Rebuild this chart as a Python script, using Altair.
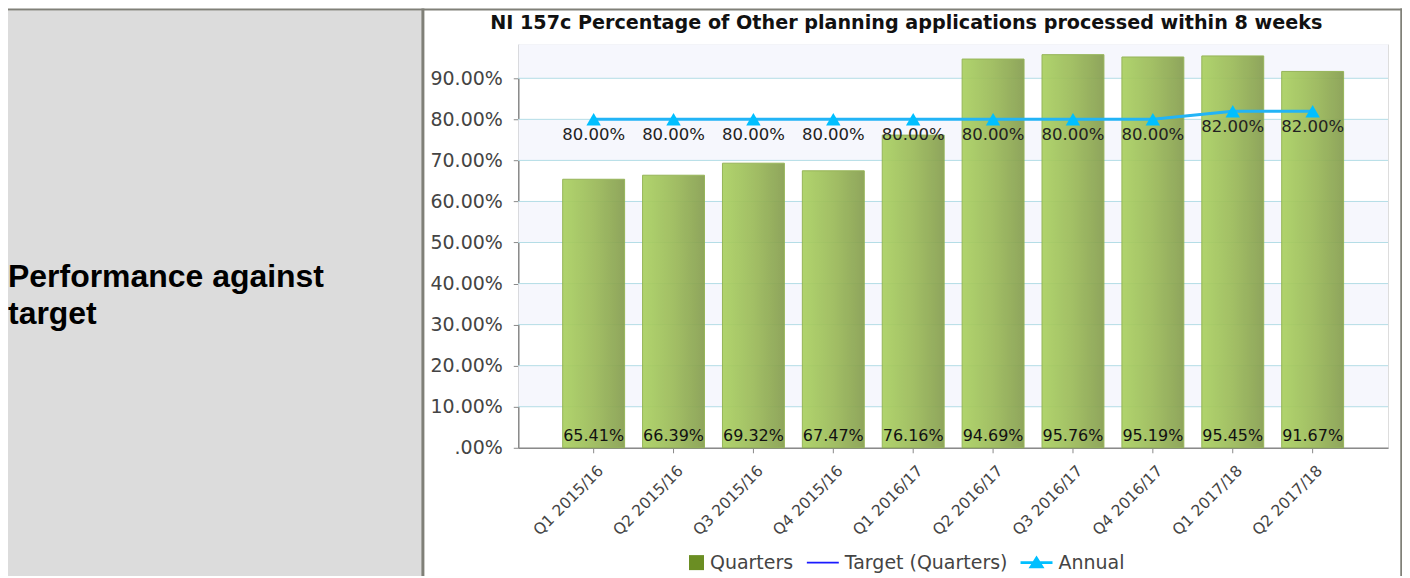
import altair as alt
import pandas as pd

# ---------------- data ----------------
quarters = ["Q1 2015/16", "Q2 2015/16", "Q3 2015/16", "Q4 2015/16", "Q1 2016/17",
            "Q2 2016/17", "Q3 2016/17", "Q4 2016/17", "Q1 2017/18", "Q2 2017/18"]
quarter_values = [65.41, 66.39, 69.32, 67.47, 76.16, 94.69, 95.76, 95.19, 95.45, 91.67]
target_values = [80, 80, 80, 80, 80, 80, 80, 80, 82, 82]
annual_values = [80, 80, 80, 80, 80, 80, 80, 80, 82, 82]
y_ticks = [0, 10, 20, 30, 40, 50, 60, 70, 80, 90]
grid_values = [10, 20, 30, 40, 50, 60, 70, 80, 90]
y_max = 98.27
band_starts = [10, 30, 50, 70, 90]
band_ends = [20, 40, 60, 80, y_max]
series_names = ["Quarters", "Target (Quarters)", "Annual"]
series_colors = ["#6b8e23", "#1a1aff", "#00bfff"]
title_text = "NI 157c Percentage of Other planning applications processed within 8 weeks"
row_label = "Performance against\ntarget"

df = pd.DataFrame({
    "quarter": quarters,
    "value": quarter_values,
    "target": target_values,
    "annual": annual_values,
})
df["value_label"] = [f"{v:.2f}%" for v in quarter_values]
df["annual_label"] = [f"{v:.2f}%" for v in annual_values]
grid_df = pd.DataFrame({"tick": grid_values})
band_df = pd.DataFrame({"start": band_starts, "end": band_ends})
legend_df = pd.DataFrame({"series": series_names})
one_row = pd.DataFrame({"k": [0]})

FONT = "DejaVu Sans"
AXIS_GRAY = "#8a8a8a"

# ---------------- scales / axes ----------------
y_scale = alt.Scale(domain=[0, y_max], nice=False, zero=True)
y_axis = alt.Axis(
    title=None, values=y_ticks, grid=False,
    labelExpr="datum.value == 0 ? '.00%' : format(datum.value, '.2f') + '%'",
    labelFont=FONT, labelFontSize=19, labelColor="#444444", labelPadding=11,
    tickSize=5, tickColor=AXIS_GRAY, domainColor=AXIS_GRAY, domainWidth=1.5,
)
x_scale = alt.Scale(paddingInner=0.225, paddingOuter=0.556)
x_axis = alt.Axis(
    title=None, labelAngle=-45, labelAlign="right", labelBaseline="middle",
    labelOffset=7, labelPadding=15, labelFont=FONT, labelFontSize=15.5,
    labelColor="#444444", tickSize=5, tickColor=AXIS_GRAY,
    domainColor=AXIS_GRAY, domainWidth=1.5, grid=False,
)
X = alt.X("quarter:N", sort=quarters, scale=x_scale, axis=x_axis)

# ---------------- table decoration ----------------
gray_cell = alt.Chart(one_row).mark_rect(color="#dcdcdc").encode(
    x=alt.value(-511), x2=alt.value(-96), y=alt.value(-34), y2=alt.value(540)
)
row_text = alt.Chart(one_row).mark_text(
    text=row_label, lineBreak="\n", lineHeight=37, align="left", baseline="alphabetic",
    font="Liberation Sans", fontSize=32, fontWeight="bold", color="#000000",
).encode(x=alt.value(-511), y=alt.value(243))
border_color = "#808078"
top_border = alt.Chart(one_row).mark_rule(color=border_color, strokeWidth=2).encode(
    x=alt.value(-511), x2=alt.value(886), y=alt.value(-35)
)
mid_border = alt.Chart(one_row).mark_rule(color=border_color, strokeWidth=3).encode(
    x=alt.value(-95.5), y=alt.value(-36), y2=alt.value(540)
)
right_border = alt.Chart(one_row).mark_rule(color=border_color, strokeWidth=2.5).encode(
    x=alt.value(884.5), y=alt.value(-36), y2=alt.value(540)
)
chart_title = alt.Chart(one_row).mark_text(
    text=title_text, align="center", baseline="alphabetic",
    font=FONT, fontSize=19.2, fontWeight="bold", color="#111111",
).encode(x=alt.value(388.5), y=alt.value(-15))

# ---------------- chart ----------------
bands = alt.Chart(band_df).mark_rect(color="#f6f7fd").encode(
    y=alt.Y("start:Q", scale=y_scale, axis=y_axis), y2="end:Q"
)
grid = alt.Chart(grid_df).mark_rule(color="#b4dde6", strokeWidth=1).encode(
    y=alt.Y("tick:Q", scale=y_scale, axis=y_axis)
)

bar_gradient = alt.LinearGradient(
    gradient="linear",
    stops=[alt.GradientStop(color="#abd162", offset=0),
           alt.GradientStop(color="#9cbb5a", offset=0.5),
           alt.GradientStop(color="#879f50", offset=1)],
    x1=0, x2=1, y1=0, y2=0,
)
bars = alt.Chart(df).mark_bar(
    color=bar_gradient, stroke="#8fb04c", strokeWidth=1, opacity=0.93
).encode(x=X, y=alt.Y("value:Q", scale=y_scale, axis=y_axis))

bar_labels = alt.Chart(df).mark_text(
    font=FONT, fontSize=16, color="#111111", baseline="alphabetic", dy=-7
).encode(x=X, y=alt.datum(0), text="value_label:N")

target_line = alt.Chart(df).mark_line(color="#1a1aff", strokeWidth=1.5).encode(
    x=X, y=alt.Y("target:Q", scale=y_scale, axis=y_axis)
)
annual_line = alt.Chart(df).mark_line(color="#22b4f6", strokeWidth=3).encode(
    x=X, y=alt.Y("annual:Q", scale=y_scale, axis=y_axis)
)
annual_points = alt.Chart(df).mark_point(
    shape="triangle-up", filled=True, size=210, color="#00bfff", opacity=1
).encode(x=X, y=alt.Y("annual:Q", scale=y_scale, axis=y_axis))
annual_labels = alt.Chart(df).mark_text(
    font=FONT, fontSize=16.5, color="#222222", baseline="middle", dy=16
).encode(x=X, y=alt.Y("annual:Q", scale=y_scale, axis=y_axis), text="annual_label:N")

# legend (drawn by Vega-Lite's legend, the points themselves are hidden off-plot)
shape_paths = [
    "M0.06,-0.47H1V0.47H0.06Z",
    "M-1,-0.06H1V0.06H-1Z",
    "M-1,-0.09H1V0.09H-1Z M-0.5,0.36L0,-0.44L0.5,0.36Z",
]
legend_cfg = alt.Legend(
    title=None, orient="none", legendX=154, legendY=503, direction="horizontal",
    symbolSize=1024, symbolStrokeWidth=0, labelFont=FONT, labelFontSize=19,
    labelColor="#444444", labelOffset=6, columnPadding=13, padding=0,
    labelLimit=400,
)
legend_layer = alt.Chart(legend_df).mark_point(filled=True, clip=True, opacity=1).encode(
    x=alt.value(-5000), y=alt.value(-5000),
    color=alt.Color("series:N", scale=alt.Scale(domain=series_names, range=series_colors),
                    legend=legend_cfg),
    shape=alt.Shape("series:N", scale=alt.Scale(domain=series_names, range=shape_paths),
                    legend=legend_cfg),
)

chart = alt.layer(
    gray_cell, row_text, top_border, mid_border, right_border, chart_title,
    bands, grid, bars, bar_labels, target_line, annual_line, annual_points,
    annual_labels, legend_layer,
).properties(
    width=871, height=404,
    padding={"left": 511, "top": 36, "right": 14, "bottom": 128},
    autosize=alt.AutoSizeParams(type="none"),
).configure_view(stroke=None).configure(background="white")

chart.save("out.html", embed_options={"renderer": "svg", "actions": False})
